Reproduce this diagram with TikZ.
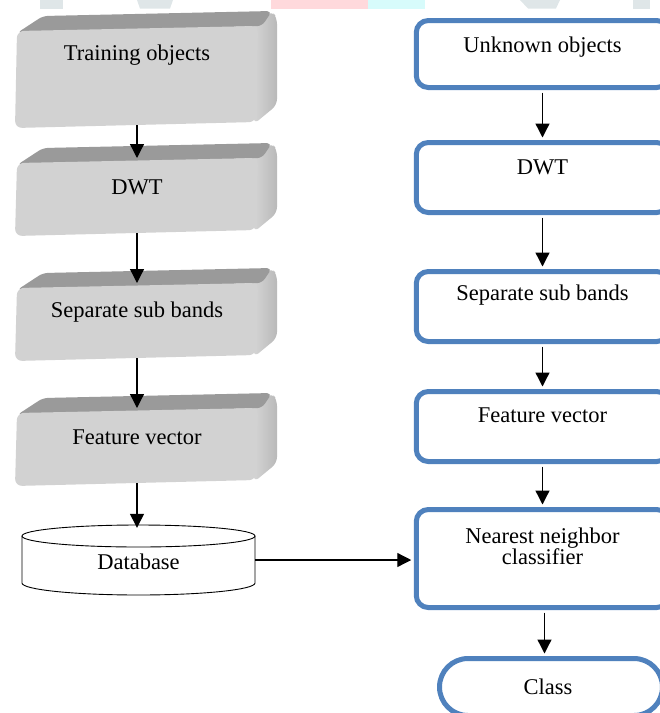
\documentclass[tikz,border=0pt]{standalone}
\usepackage{fontspec}
\setmainfont{Liberation Serif}
\usetikzlibrary{arrows.meta}
\definecolor{bl}{HTML}{4F81BD}
\definecolor{frontgr}{HTML}{D2D2D2}
\definecolor{topgr}{HTML}{9A9A9A}
\definecolor{wmgray}{HTML}{DFE6E8}
\definecolor{wmpink}{HTML}{FFD9DC}
\definecolor{wmcyan}{HTML}{D7FBFB}
\tikzset{
  lbl/.style={font=\fontsize{22.5}{25}\selectfont, inner sep=0pt, align=center},
  rbox/.style={draw=bl, line width=5pt, rounded corners=12pt, fill=white, minimum width=252.5pt},
  arr/.style={line width=1.3pt, -{Triangle[length=14pt,width=14pt]}},
  frontface/.style={fill=frontgr, rounded corners=7pt},
  topface/.style={fill=topgr, rounded corners=5pt},
  sideface/.style={left color=gray!30, right color=gray!55, rounded corners=6pt}
}
\newcommand\gbox[4]{%
  \begin{scope}[shift={(0,#2)}]
    \path[sideface] (250,13) -- (272,-2) -- (277,5) -- (277,68+#3) -- (254,87+#3) -- cycle;
    \path[topface] (17,20) -- (43,3) -- (272,-2) -- (262,13) -- cycle;
    \path[frontface] (17,18) -- (258,13) -- (256,85+#3) -- (15,91+#3) -- cycle;
    \coordinate (#1t) at (137,13);
    \coordinate (#1b) at (137,88+#3);
    \node[lbl] (#1) at (137,42) {#4};
  \end{scope}}
\begin{document}
\begin{tikzpicture}[x=1pt,y=-1pt]
\useasboundingbox (0,0) rectangle (660,713);
\clip (0,0) rectangle (660,713);
% faint watermark remnants
\fill[wmgray] (40,0) rectangle (63,8.5);
\fill[wmgray] (137,0) -- (173,0) -- (170,8.5) -- (140,8.5) -- cycle;
\fill[wmpink] (271,0) -- (368,0) -- (368,8.5) -- (271,8.5) -- cycle;
\fill[wmcyan] (368,0) rectangle (425,8.5);
\fill[wmgray] (520,0) -- (560,0) -- (556,8.5) -- (528,8.5) -- cycle;
\fill[wmgray] (633,0) rectangle (650,8.5);
% left grey boxes
\gbox{L1}{13}{24}{Training objects}
\gbox{L2}{145}{0}{DWT}
\gbox{L3}{270}{0}{Separate sub bands}
\gbox{L4}{395}{0}{Feature vector}
% database cylinder
\node[minimum width=233pt, minimum height=70pt, inner sep=0pt] (db) at (138.5,560) {};
\draw[line width=0.9pt, fill=white] (22,536) -- (22,583) arc[start angle=180, end angle=0, x radius=116.5, y radius=12] -- (255,536);
\draw[line width=0.9pt, fill=white] (138.5,536) ellipse[x radius=116.5, y radius=11];
\node[lbl] (dbt) at (138.5,562) {Database};
% right blue boxes
\node[rbox, minimum height=67pt] (R1) at (542.5,54) {};
\node[lbl] (R1t) at (542.5,47) {Unknown objects};
\node[rbox, minimum height=70pt] (R2) at (542.5,177.5) {};
\node[lbl] (R2t) at (542.5,167) {DWT};
\node[rbox, minimum height=70pt] (R3) at (542.5,306.5) {};
\node[lbl] (R3t) at (542.5,295) {Separate sub bands};
\node[rbox, minimum height=70pt] (R4) at (542.5,426.5) {};
\node[lbl] (R4t) at (542.5,415) {Feature vector};
\node[rbox, minimum height=98pt] (R5) at (542.5,558.5) {};
\node[lbl] (R5t) at (542.5,546) {Nearest neighbor\\[-4pt]classifier};
\node[draw=bl, line width=5pt, rounded corners=28.5pt, fill=white, minimum width=223pt, minimum height=57pt] (C) at (551,687) {};
\node[lbl] (Ct) at (548,687) {Class};
% arrows left
\draw[arr] (L1b) -- (L2t);
\draw[arr] (L2b) -- (L3t);
\draw[arr] (L3b) -- (L4t);
\draw[arr] (L4b) -- ([yshift=-3pt]L4b |- db.north);
% arrows right
\draw[arr, shorten <=2.5pt, shorten >=2.5pt] (R1.south) -- (R2.north);
\draw[arr, shorten <=2.5pt, shorten >=2.5pt] (R2.south) -- (R3.north);
\draw[arr, shorten <=2.5pt, shorten >=2.5pt] (R3.south) -- (R4.north);
\draw[arr, shorten <=2.5pt, shorten >=2.5pt] (R4.south) -- (R5.north);
\draw[arr, shorten <=2.5pt, shorten >=2.5pt] ([xshift=2pt]R5.south) -- ([xshift=2pt]R5.south |- C.north);
\draw[arr, shorten >=2.5pt] (db.east) -- (db.east -| R5.west);
\end{tikzpicture}
\end{document}
